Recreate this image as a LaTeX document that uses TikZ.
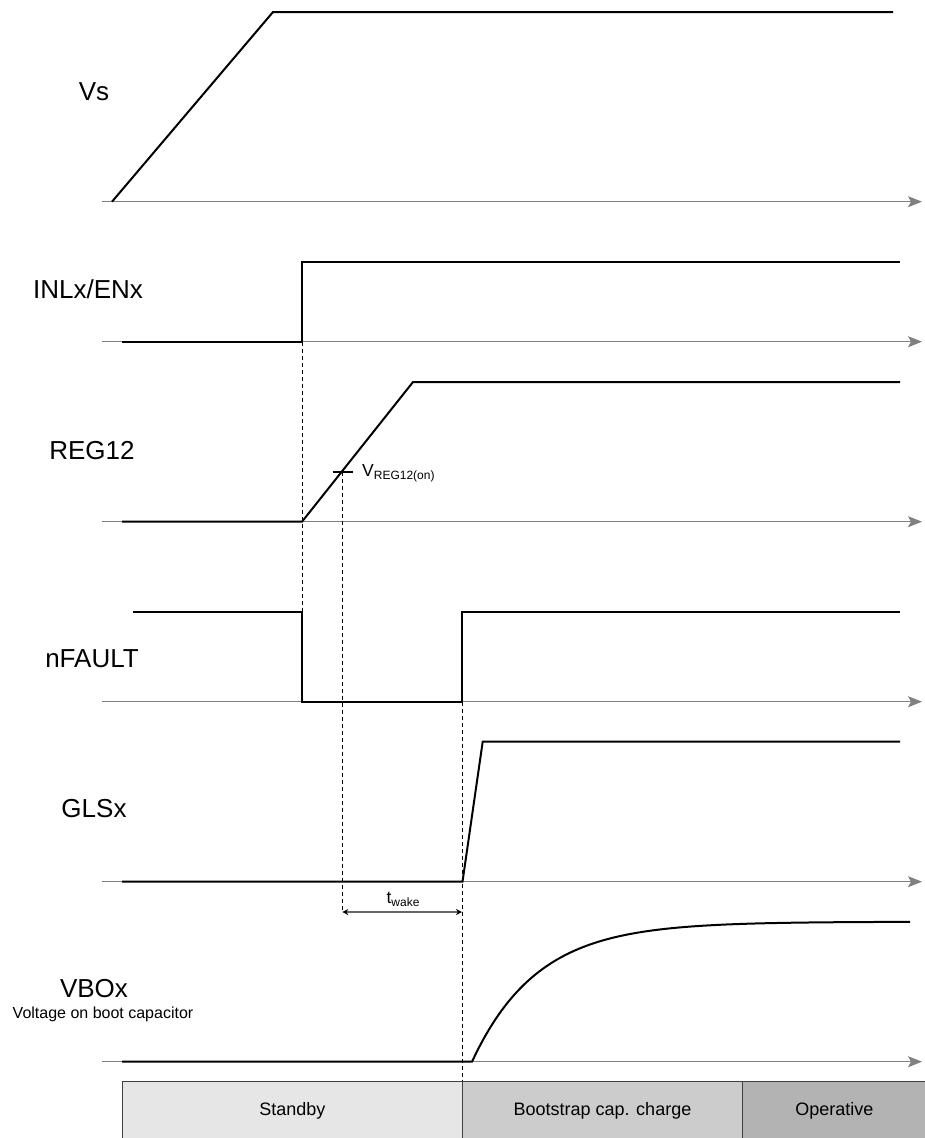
\documentclass[tikz,border=0pt]{standalone}
\usepackage{fontspec}
\setmainfont{Liberation Sans}
\usetikzlibrary{arrows.meta}
\definecolor{axisgray}{HTML}{808080}
\definecolor{dimgray}{HTML}{666666}
\definecolor{phaseA}{HTML}{E6E6E6}
\definecolor{phaseB}{HTML}{CCCCCC}
\definecolor{phaseC}{HTML}{B3B3B3}
\begin{document}
\begin{tikzpicture}[x=1pt,y=-1pt,
  axisline/.style={draw=axisgray, line width=1pt, -{Stealth[length=14pt,width=11pt,inset=3pt]}},
  sig/.style={draw=black, line width=2pt, line join=miter},
  guide/.style={draw=black, line width=0.8pt, dash pattern=on 4pt off 3pt},
  lbl/.style={anchor=base, inner sep=0pt, font=\fontsize{26}{31}\selectfont},
  sublbl/.style={anchor=base, inner sep=0pt, font=\fontsize{16}{19}\selectfont},
  phase/.style={draw=black!75, line width=0.8pt, font=\fontsize{18}{22}\selectfont},
  dimline/.style={draw=dimgray, line width=1.5pt, {Stealth[length=6pt,width=6pt,color=black]}-{Stealth[length=6pt,width=6pt,color=black]}}
]
\useasboundingbox (0,0) rectangle (924,1138);

% ---------- axes ----------
\foreach \n/\y in {1/201.7,2/341.7,3/521.7,4/701.7,5/881.7,6/1061.7}{
  \coordinate (ax\n s) at (102,\y);
  \coordinate (ax\n e) at (922,\y);
}
\foreach \n in {1,...,6}{ \path[axisline] (ax\n s) -- (ax\n e); }

% ---------- labels ----------
\node[lbl] (lVs)   at (94,100.5) {Vs};
\node[lbl] (lIN)   at (88,298)   {INLx/ENx};
\node[lbl] (lREG)  at (92,459.3) {REG12};
\node[lbl] (lNF)   at (92,667)   {nFAULT};
\node[lbl] (lGLS)  at (94,817)   {GLSx};
\node[lbl] (lVBO)  at (94,997.7) {VBOx};
\node[sublbl] (lVBOs) at (103,1018) {Voltage on boot capacitor};

% ---------- Vs ----------
\coordinate (vs0) at (112,201.7);
\coordinate (vs1) at (273,12);
\coordinate (vs2) at (893,12);
\draw[sig] (vs0) -- (vs1) -- (vs2);

% ---------- INLx/ENx ----------
\coordinate (in0) at (122,341.7);
\coordinate (in1) at (302,341.7);
\coordinate (in2) at (302,262);
\coordinate (in3) at (900,262);
\draw[sig] (in0) -- (in1) -- (in2) -- (in3);

% ---------- REG12 ----------
\coordinate (rg0) at (122,521.7);
\coordinate (rg1) at (302,521.7);
\coordinate (rg2) at (413,382);
\coordinate (rg3) at (900,382);
\draw[sig] (rg0) -- (rg1) -- (rg2) -- (rg3);
\coordinate (tickc) at (342.3,471.7);
\coordinate (tickl) at (332.5,471.7);
\coordinate (tickr) at (352.5,471.7);
\draw[sig] (tickl) -- (tickr);
\node[anchor=base west, inner sep=0pt] (lVreg) at (362,476.7)
  {\fontsize{17.5}{20}\selectfont V\fontsize{12}{14}\selectfont\raisebox{-3pt}{REG12(on)}};

% ---------- nFAULT ----------
\coordinate (nf0) at (133,612);
\coordinate (nf1) at (302,612);
\coordinate (nf2) at (302,701.7);
\coordinate (nf3) at (462,701.7);
\coordinate (nf4) at (462,612);
\coordinate (nf5) at (900,612);
\draw[sig] (nf0) -- (nf1) -- (nf2) -- (nf3) -- (nf4) -- (nf5);

% ---------- GLSx ----------
\coordinate (gl0) at (122,881.7);
\coordinate (gl1) at (462.5,881.7);
\coordinate (gl2) at (482.7,741.7);
\coordinate (gl3) at (900,741.7);
\draw[sig] (gl0) -- (gl1) -- (gl2) -- (gl3);

% ---------- VBOx ----------
\coordinate (vb0) at (122,1061.7);
\coordinate (vb1) at (472,1061.7);
\draw[sig] (vb0) -- (vb1)
  -- plot[domain=472:910, samples=120, smooth] (\x, {1061.7-140*(1-exp(-(\x-472)/65))});

% ---------- guides ----------
\coordinate (g1a) at (302,341.7);
\coordinate (g1b) at (302,612);
\draw[guide] (g1a) -- (g1b);
\coordinate (g2b) at (342.3,912);
\draw[guide] (tickc) -- (g2b);
\coordinate (g3a) at (462,701.7);
\coordinate (g3b) at (462,1081);
\draw[guide] (g3a) -- (g3b);

% ---------- t_wake ----------
\coordinate (tw0) at (342.3,912);
\coordinate (tw1) at (462,912);
\draw[dimline] (tw0) -- (tw1);
\node[anchor=base, inner sep=0pt] (ltw) at (403,903)
  {\fontsize{17.5}{20}\selectfont t\fontsize{12}{14}\selectfont\raisebox{-3pt}{wake}};

% ---------- phases ----------
\node[phase, fill=phaseA, minimum width=340pt, minimum height=58pt, anchor=north west] (pStandby) at (122,1081) {Standby};
\node[phase, fill=phaseB, minimum width=280pt, minimum height=58pt, anchor=north west] (pBoot) at (462,1081) {Bootstrap cap. charge};
\node[phase, fill=phaseC, minimum width=184pt, minimum height=58pt, anchor=north west] (pOper) at (742,1081) {Operative};
\end{tikzpicture}
\end{document}
